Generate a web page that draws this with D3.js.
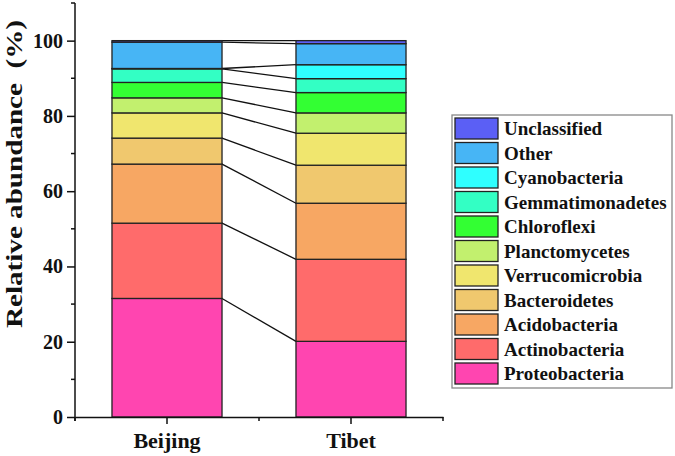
<!DOCTYPE html>
<html>
<head>
<meta charset="utf-8">
<script src="https://cdn.jsdelivr.net/npm/d3@7"></script>
<style>
  html, body { margin: 0; padding: 0; background: #fff; }
  svg { display: block; font-family: "Liberation Serif", "Times New Roman", serif; font-weight: bold; }
</style>
</head>
<body>
<svg id="chart" width="675" height="456"></svg>
<script>
// ---- data (bottom to top) ----
const categories = ["Beijing", "Tibet"];
const taxa = ["Proteobacteria", "Actinobacteria", "Acidobacteria", "Bacteroidetes",
  "Verrucomicrobia", "Planctomycetes", "Chloroflexi", "Gemmatimonadetes",
  "Cyanobacteria", "Other", "Unclassified"];
const beijing = [31.5, 20.0, 15.7, 6.9, 6.7, 4.0, 4.1, 3.6, 0.1, 7.0, 0.4];
const tibet   = [20.1, 21.8, 14.9, 10.1, 8.5, 5.4, 5.4, 3.7, 3.7, 5.6, 0.8];
const colors = ["#FF45B0", "#FF6B6B", "#F7A763", "#F0C86E", "#F0E66E", "#C2F06E",
  "#33FF33", "#33FFC4", "#2FFFFF", "#47B5F5", "#5B5FF5"];
const yMajorTicks = [0, 20, 40, 60, 80, 100];
const yMinorTicks = [10, 30, 50, 70, 90, 110];
const yTitle = "Relative abundance  (%)";

const seriesValues = { "Beijing": beijing, "Tibet": tibet };

const svg = d3.select("#chart");

const x = d3.scaleBand().domain(categories).range([75, 443])
  .paddingInner(0.402).paddingOuter(0.201);
const y = d3.scaleLinear().domain([0, 110]).range([417, 3]);

// stacked data
const rows = categories.map(c => {
  const o = { cat: c };
  taxa.forEach((t, i) => o[t] = seriesValues[c][i]);
  return o;
});
const stacked = d3.stack().keys(taxa)(rows);

// connector lines between bars at each cumulative boundary
const bounds = stacked.map(layer => [layer[0][1], layer[1][1]]);
svg.append("g").selectAll("line").data(bounds).join("line")
  .attr("x1", x("Beijing") + x.bandwidth())
  .attr("x2", x("Tibet"))
  .attr("y1", d => y(d[0]))
  .attr("y2", d => y(d[1]))
  .attr("stroke", "#111")
  .attr("stroke-width", 1.3);

// bars
const layerG = svg.append("g").selectAll("g").data(stacked).join("g")
  .attr("fill", (d, i) => colors[i]);
layerG.selectAll("rect").data(d => d).join("rect")
  .attr("x", d => x(d.data.cat))
  .attr("width", x.bandwidth())
  .attr("y", d => y(d[1]))
  .attr("height", d => Math.max(0, y(d[0]) - y(d[1])))
  .attr("stroke", "#222")
  .attr("stroke-width", 1.3);

// y axis
const yAxis = svg.append("g").attr("transform", "translate(75,0)")
  .call(d3.axisLeft(y).tickValues(yMajorTicks).tickSize(8).tickPadding(4).tickSizeOuter(0));
yAxis.selectAll("text").attr("font-size", 20).attr("fill", "#111")
  .attr("font-family", "Liberation Serif").attr("font-weight", "bold");
yAxis.select(".domain").attr("stroke-width", 1.5).attr("stroke", "#111")
  .attr("d", "M0,3V421");
yAxis.selectAll(".tick line").attr("stroke-width", 1.5).attr("stroke", "#111");
svg.append("g").selectAll("line").data(yMinorTicks).join("line")
  .attr("x1", 71).attr("x2", 75)
  .attr("y1", d => y(d)).attr("y2", d => y(d))
  .attr("stroke", "#111").attr("stroke-width", 1.5);

// x axis
const xAxis = svg.append("g").attr("transform", "translate(0,417)")
  .call(d3.axisBottom(x).tickSize(7).tickPadding(8.5).tickSizeOuter(0));
xAxis.selectAll("text").attr("font-size", 22).attr("fill", "#111")
  .attr("font-family", "Liberation Serif").attr("font-weight", "bold");
xAxis.select(".domain").attr("stroke-width", 1.5).attr("stroke", "#111");
xAxis.selectAll(".tick line").attr("stroke-width", 1.5).attr("stroke", "#111");
const xMinor = [x.range()[0], (x("Beijing") + x("Tibet") + x.bandwidth()) / 2, x.range()[1]];
svg.append("g").selectAll("line").data(xMinor).join("line")
  .attr("x1", d => d).attr("x2", d => d)
  .attr("y1", 417).attr("y2", 421)
  .attr("stroke", "#111").attr("stroke-width", 1.5);

// y title
svg.append("text")
  .attr("transform", "translate(22,174) rotate(-90)")
  .attr("text-anchor", "middle")
  .attr("font-size", 23)
  .attr("fill", "#111")
  .attr("textLength", 308)
  .attr("lengthAdjust", "spacingAndGlyphs")
  .style("white-space", "pre")
  .text(yTitle);

// legend
const legend = svg.append("g");
legend.append("rect").attr("x", 452).attr("y", 115).attr("width", 220).attr("height", 273)
  .attr("fill", "#fff").attr("stroke", "#888").attr("stroke-width", 1.3);
const legendOrder = taxa.slice().reverse();
const lg = legend.selectAll("g.item").data(legendOrder).join("g")
  .attr("class", "item")
  .attr("transform", (d, i) => `translate(0,${118 + i * 24.5})`);
lg.append("rect").attr("x", 455).attr("y", 0).attr("width", 43).attr("height", 21)
  .attr("fill", d => colors[taxa.indexOf(d)])
  .attr("stroke", "#222").attr("stroke-width", 1.3);
lg.append("text").attr("x", 504).attr("y", 10.5).attr("dy", "0.35em")
  .attr("font-size", 19).attr("fill", "#111")
  .text(d => d);
</script>
</body>
</html>
